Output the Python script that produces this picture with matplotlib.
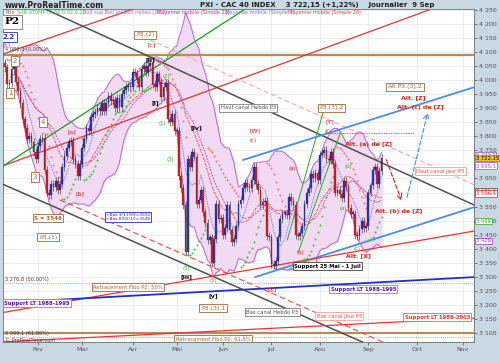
import numpy as np
import pandas as pd
import matplotlib
matplotlib.use("Agg")
import matplotlib.pyplot as plt

# ---- data (CAC 40 daily, 11 Jan -> 9 Sep 2010) ----
first_open = 4060
closes_jan = [4045, 3985, 3990, 4040, 4050, 3995, 3960, 3920, 3860, 3830, 3790, 3800, 3780, 3745, 3720]
closes_feb = [3765, 3790, 3795, 3680, 3600, 3590, 3630, 3620, 3640, 3610, 3630, 3690, 3730, 3760, 3780,
              3785, 3720, 3700, 3660, 3700]
closes_mar = [3760, 3790, 3830, 3820, 3870, 3880, 3885, 3900, 3890, 3920, 3890, 3920, 3945, 3925, 3930,
              3900, 3935, 3905, 3950, 3965, 3975, 3980, 3975]
closes_apr = [4030, 4025, 4005, 3975, 4040, 4050, 4030, 4050, 4060, 3985, 3975, 4020, 3995, 3940, 3975,
              3990, 3860, 3850, 3880, 3820]
closes_may = [3820, 3660, 3615, 3555, 3390, 3720, 3690, 3745, 3725, 3560, 3575, 3610, 3530, 3490, 3430,
              3440, 3350, 3435, 3560, 3505, 3510]
closes_jun = [3450, 3475, 3555, 3465, 3425, 3435, 3480, 3560, 3575, 3615, 3635, 3620, 3615, 3645, 3690,
              3630, 3610, 3555, 3565, 3570, 3445, 3440]
closes_jul = [3345, 3340, 3355, 3440, 3505, 3525, 3525, 3520, 3585, 3570, 3555, 3450, 3445, 3455, 3480,
              3560, 3600, 3615, 3665, 3650, 3670, 3645]
closes_aug = [3735, 3740, 3750, 3720, 3715, 3745, 3700, 3600, 3610, 3595, 3580, 3640, 3620, 3545, 3525,
              3525, 3450, 3445, 3470, 3500, 3475, 3480]
closes_sep = [3600, 3625, 3680, 3690, 3630, 3675, 3722.15]
closes = np.array(closes_jan + closes_feb + closes_mar + closes_apr + closes_may + closes_jun
                  + closes_jul + closes_aug + closes_sep, dtype=float)

month_labels = ["Fev", "Mar", "Avr", "Mai", "Jun", "Jul", "Aou", "Sep", "Oct", "Nov"]
price_ticks = np.arange(3100, 4251, 50)

# horizontal levels
fibo_levels = [4088.8, 3276.8, 3099.1]

# trend lines: (bar0, price0, bar1, price1)
trend_lines = {
    "red_a": (-2.3, 4089, 58.2, 4253),
    "red_b": (-2.3, 3691, 192.3, 4249),
    "green_up": (-2.3, 3687, 109.1, 4253),
    "haut_hebdo": (18.2, 4253, 213.2, 3555),
    "bas_hebdo": (-2.3, 3634, 162.3, 3068),
    "bas_jour": (25.0, 3573, 172.7, 3064),
    "haut_jour": (65.9, 4143, 213.2, 3627),
    "blue_up_top": (108.2, 3716, 213.2, 3975),
    "blue_up_bot": (113.6, 3299, 213.2, 3548),
    "red_lt": (-2.3, 3171, 213.2, 3463),
    "blue_lt": (-2.3, 3207, 213.2, 3299),
    "red_lt_2003": (-2.3, 3068, 213.2, 3153),
    "green_w1": (128.2, 3431, 144.5, 3886),
    "green_w2": (133.2, 3388, 152.3, 3812),
}

# ---- calendar ----
dates = pd.bdate_range("2010-01-11", "2010-11-12")
dates = dates[~dates.isin(pd.to_datetime(["2010-04-02", "2010-04-05"]))]
month_start = [i for i in range(1, len(dates)) if dates[i].month != dates[i - 1].month]

n = len(closes)
idx = np.arange(n)
opens = np.concatenate([[first_open], closes[:-1]])
wick = 14
highs = np.maximum(opens, closes) + wick
lows = np.minimum(opens, closes) - wick

s = pd.Series(closes)
sma7 = s.rolling(7, min_periods=3).mean()
sma20 = s.rolling(20, min_periods=5).mean()
sma23 = s.rolling(23, min_periods=5).mean()
std20 = s.rolling(20, min_periods=5).std(ddof=0)
boll_up = sma20 + 2 * std20
boll_dn = sma20 - 2 * std20


def psar(high, low, step=0.02, mx=0.2):
    sar = np.zeros(len(high))
    up = True
    af = step
    ep = high[0]
    sar[0] = low[0]
    for i in range(1, len(high)):
        sar[i] = sar[i - 1] + af * (ep - sar[i - 1])
        if up:
            sar[i] = min(sar[i], low[i - 1])
            if low[i] < sar[i]:
                up, sar[i], ep, af = False, ep, low[i], step
            elif high[i] > ep:
                ep, af = high[i], min(af + step, mx)
        else:
            sar[i] = max(sar[i], high[i - 1])
            if high[i] > sar[i]:
                up, sar[i], ep, af = True, ep, high[i], step
            elif low[i] < ep:
                ep, af = low[i], min(af + step, mx)
    return sar


sar = psar(highs, lows)


# pixel of the reference -> data coords (for placing annotations)
def bx(x):
    return (x - 5) / 2.2


def py(y):
    return 4100 - (y - 52) / 0.281


# ---- figure ----
fig = plt.figure(figsize=(5, 3.63), dpi=100)
fig.patch.set_facecolor("#c9d9e3")
ax = fig.add_axes([3 / 500, 21 / 363, 471 / 500, 333 / 363])
ax.set_facecolor("white")
ax.set_xlim(-0.9, 213)
ax.set_ylim(3068, 4253)

for sp in ax.spines.values():
    sp.set_color("#707070")
    sp.set_linewidth(0.6)

ax.yaxis.tick_right()
ax.set_yticks(price_ticks)
ax.set_yticklabels([f"{v // 1000} {v % 1000:03d}" for v in price_ticks], fontsize=4.5, color="#303030")
ax.set_xticks(month_start[:len(month_labels)])
ax.set_xticklabels(month_labels, fontsize=4.5, color="#303030")
ax.tick_params(length=2, width=0.5, pad=1.5, colors="#505050")
ax.grid(True, color="#e6e6e6", lw=0.5)
ax.set_axisbelow(True)

# bollinger
ax.fill_between(idx, boll_dn, boll_up, color="#f1daf2", zorder=1)
ax.plot(idx, boll_up, color="#b46ad2", lw=0.7, zorder=2)
ax.plot(idx, boll_dn, color="#b46ad2", lw=0.7, zorder=2)

# horizontal levels
ax.axhline(fibo_levels[0], color="#b88a5a", lw=1.6, zorder=2)
ax.axhline(fibo_levels[1], color="#b88a5a", lw=0.6, ls=(0, (1, 1.5)), zorder=2)
ax.axhline(fibo_levels[2], color="#b88a5a", lw=1.6, zorder=2)
ax.axhline(fibo_levels[2] - 12, color="#b88a5a", lw=0.6, ls=(0, (1, 1.5)), zorder=2)

# trend lines
styles = {
    "red_a": dict(color="#f03030", lw=0.9),
    "red_b": dict(color="#f03030", lw=0.9),
    "green_up": dict(color="#18a018", lw=0.9),
    "haut_hebdo": dict(color="#505050", lw=1.1),
    "bas_hebdo": dict(color="#505050", lw=1.1),
    "bas_jour": dict(color="#f04848", lw=0.8, ls=(0, (5, 3))),
    "haut_jour": dict(color="#f4a0a0", lw=0.7, ls=(0, (5, 3))),
    "blue_up_top": dict(color="#4a8cf0", lw=1.3),
    "blue_up_bot": dict(color="#4a8cf0", lw=1.3),
    "red_lt": dict(color="#f03030", lw=0.9),
    "blue_lt": dict(color="#2030d0", lw=1.3),
    "red_lt_2003": dict(color="#f03030", lw=0.9),
    "green_w1": dict(color="#20b020", lw=0.7),
    "green_w2": dict(color="#20b020", lw=0.7),
}
for key, (b0, p0, b1, p1) in trend_lines.items():
    ax.plot([b0, b1], [p0, p1], zorder=3, **styles[key])

ax.plot([bx(327), bx(415)], [py(133), py(133)], color="#f05050", lw=0.8, ls=(0, (1, 1.2)), zorder=3)

# moving averages
ax.plot(idx, sma7, color="#5a5af0", lw=0.6, ls=(0, (1, 1)), zorder=4)
ax.plot(idx, sma20, color="#e84040", lw=0.6, ls=(0, (3, 1, 1, 1)), zorder=4)
ax.plot(idx, sma23, color="#d0308c", lw=0.6, ls=(0, (2, 1.5)), zorder=4)

# SAR
below = sar < closes
ax.scatter(idx[below], sar[below], s=2.2, color="#3cc83c", lw=0, zorder=5)
ax.scatter(idx[~below], sar[~below], s=2.2, color="#f07878", lw=0, zorder=5)

# candles
ax.vlines(idx, lows, highs, color="#3a3a3a", lw=0.45, zorder=6)
up = closes >= opens
body = np.maximum(np.abs(closes - opens), 4)
ax.bar(idx[up], body[up], bottom=np.minimum(opens, closes)[up], width=0.8,
       color="#1e3cd2", edgecolor="#101060", lw=0.2, zorder=7)
ax.bar(idx[~up], body[~up], bottom=np.minimum(opens, closes)[~up], width=0.8,
       color="#e01c1c", edgecolor="#601010", lw=0.2, zorder=7)

# projection arrows
ax.annotate("", xy=(bx(402), py(203)), xytext=(bx(385), py(157)),
            arrowprops=dict(arrowstyle="->", color="#e02020", lw=0.8, ls=(0, (4, 2))), zorder=8)
ax.annotate("", xy=(bx(428), py(110)), xytext=(bx(406), py(200)),
            arrowprops=dict(arrowstyle="->", color="#4a8cf0", lw=0.8, ls=(0, (4, 2))), zorder=8)

# ---- annotations (text, x_px, y_px, color, box edge, size, weight, align) ----
labels = [
    ("P2", 12, 22, "black", "#808080", 7.5, "bold", "center"),
    ("2.2", 9, 37, "#2c2cc0", "#2c2cc0", 5, "bold", "center"),
    ("(c)", 7, 46, "#9a20c0", None, 4.5, "normal", "center"),
    ("2", 15, 61, "#a06838", "#a06838", 5, "normal", "center"),
    ("1", 10, 93, "#a06838", "#a06838", 5, "normal", "center"),
    ("4", 43, 122, "#a06838", "#a06838", 5, "normal", "center"),
    ("3", 35, 177, "#a06838", "#a06838", 5, "normal", "center"),
    ("[a]", 72, 132, "#e02020", None, 4.5, "normal", "center"),
    ("[b]", 80, 194, "#e02020", None, 4.5, "normal", "center"),
    ("S = 3546", 48, 218, "#a06838", "#a06838", 4, "bold", "center"),
    ("P3.(1)", 48, 237, "#a06838", "#a06838", 4.5, "normal", "center"),
    ("+Bas 3/11/09=3550\n+Bas 8/02/10=3546", 128, 217, "#2c2cc0", "#2c2cc0", 3.2, "normal", "center"),
    ("Retracement Fibo P2: 50%", 128, 287, "#a06838", "#a06838", 3.8, "normal", "center"),
    ("Support LT 1988-1995", 4, 303, "#6010c0", "#a070e0", 3.8, "bold", "left"),
    ("P3.(2)", 145, 35, "#a06838", "#a06838", 4.5, "normal", "center"),
    ("[c]", 152, 45, "#e02020", None, 4.5, "normal", "center"),
    ("[ii]", 150, 60, "black", None, 4.5, "bold", "center"),
    ("(2)", 166, 77, "#30b030", None, 3.8, "normal", "center"),
    ("[i]", 155, 103, "black", None, 4.5, "bold", "center"),
    ("(1)", 162, 124, "#30b030", None, 3.8, "normal", "center"),
    ("(3)", 170, 160, "#30b030", None, 3.8, "normal", "center"),
    ("[iv]", 196, 128, "black", None, 4.5, "bold", "center"),
    ("(5)", 186, 268, "#30b030", None, 3.8, "normal", "center"),
    ("[iii]", 186, 277, "black", None, 4.5, "bold", "center"),
    ("(5)", 213, 280, "#30b030", None, 3.8, "normal", "center"),
    ("[v]", 213, 296, "black", None, 4.5, "bold", "center"),
    ("P3.(3).1", 213, 308, "#a06838", "#a06838", 4.5, "normal", "center"),
    ("Haut canal Hebdo P3", 248, 108, "#505050", "#808080", 3.8, "normal", "center"),
    ("P3.(3).2", 331, 108, "#a06838", "#a06838", 4.5, "normal", "center"),
    ("[Y]", 330, 122, "#e02020", None, 4.5, "normal", "center"),
    ("(c)", 328, 132, "#e02020", None, 3.8, "normal", "center"),
    ("[W]", 255, 131, "#e02020", None, 4.5, "normal", "center"),
    ("(c)", 253, 141, "#e02020", None, 3.8, "normal", "center"),
    ("(a)", 292, 168, "#e02020", None, 3.8, "normal", "center"),
    ("(b)", 300, 252, "#e02020", None, 3.8, "normal", "center"),
    ("(b)", 348, 166, "#30b030", None, 3.8, "normal", "center"),
    ("(a)", 343, 208, "#30b030", None, 3.8, "normal", "center"),
    ("(c)", 357, 248, "#30b030", None, 3.8, "normal", "center"),
    ("[X]", 272, 290, "#e02020", None, 4.5, "normal", "center"),
    ("Alt. [X]", 358, 256, "#e02020", None, 4.5, "bold", "center"),
    ("Support 25 Mai - 1 Juil", 327, 266, "black", "#404040", 3.8, "bold", "center"),
    ("Support LT 1988-1995", 363, 289, "#6010c0", "#a070e0", 3.8, "bold", "center"),
    ("Alt.P3.(3).2", 405, 87, "#a06838", "#a06838", 4.5, "normal", "center"),
    ("Alt. [Z]", 413, 98, "#e02020", None, 4.5, "bold", "center"),
    ("Alt. (c) de [Z]", 420, 108, "#e02020", None, 4.5, "bold", "center"),
    ("Alt. (a) de [Z]", 368, 145, "#e02020", None, 4.5, "bold", "center"),
    ("Haut canal Jour P3", 440, 171, "#f05050", "#f4a0a0", 3.8, "normal", "center"),
    ("Alt. (b) de [Z]", 398, 211, "#e02020", None, 4.5, "bold", "center"),
    ("Bas canal Hebdo P3", 272, 312, "#505050", "#808080", 3.8, "normal", "center"),
    ("Bas canal Jour P3", 339, 316, "#f05050", "#f4a0a0", 3.8, "normal", "center"),
    ("Support LT 1988-2003", 437, 317, "#f03030", "#f06060", 3.8, "bold", "center"),
    ("Retracement Fibo P2: 61,8%", 213, 339, "#a06838", "#a06838", 3.8, "normal", "center"),
]
for text, x, y, col, edge, fs, fw, ha in labels:
    kw = {}
    if edge:
        kw["bbox"] = dict(boxstyle="square,pad=0.25", fc="white", ec=edge, lw=0.6)
    ax.text(bx(x), py(y), text, color=col, fontsize=fs, fontweight=fw, ha=ha, va="center",
            family="serif" if text == "P2" else "DejaVu Sans", zorder=9, clip_on=True, **kw)

# level captions at the left
for text, y in [("4 088,8 (0,00%)", 50), ("3 276,8 (50,00%)", 279), ("3 099,1 (61,80%)", 333),
                ("\u00a9 ProRealTime.com", 340)]:
    ax.text(bx(5), py(y), text, fontsize=3.6, color="#404040", ha="left", va="center", zorder=9)

# price tags on the right axis
tags = [(3733.9, "3 733,9", "#9a50d0", "white", "#9a50d0"),
        (3722.15, "3 722,15", "black", "#f2c21a", "#a08000"),
        (3695.1, "3 695,1", "#9a50d0", "white", "#9a50d0"),
        (3606.0, "3 606,0", "#404040", "white", "#404040"),
        (3596.4, "3 596,4", "#e02020", "white", "#e02020"),
        (3498.0, "3 498", "#30a030", "white", "#30a030"),
        (3428.0, "3 428", "#9a30c0", "white", "#9a30c0")]
for val, txt, col, fc, ec in tags:
    ax.text(1.004, val, txt, transform=ax.get_yaxis_transform(), fontsize=3.8, color=col,
            ha="left", va="center", zorder=10, clip_on=False,
            bbox=dict(boxstyle="square,pad=0.15", fc=fc, ec=ec, lw=0.5))

# header bar and indicator legend
fig.text(5 / 500, 1 - 5 / 363, "www.ProRealTime.com", fontsize=5.5, fontweight="bold", color="#202020",
         va="center", ha="left")
fig.text(200 / 500, 1 - 5 / 363, "PXI - CAC 40 INDEX    3 722,15 (+1,22%)    Journalier  9 Sep",
         fontsize=5, fontweight="bold", color="#202020", va="center", ha="left")
legend_items = [("Prix", 5, "#505050"), ("SAR AT0MP (0.02,0.02,0.2)", 17, "#40c040"),
                ("Boll sup Boll inf Boll milieu (20,2)", 83, "#b060d0"),
                ("Moyenne mobile (Simple 23)", 157, "#d0308c"),
                ("Moyenne mobile (Simple 7)", 225, "#7070f0"),
                ("Moyenne mobile (Simple 20)", 288, "#e84040")]
for text, x, col in legend_items:
    fig.text(x / 500, 1 - 12.5 / 363, text, fontsize=3.6, color=col, va="center", ha="left")

fig.savefig("out.png", dpi=100, facecolor=fig.get_facecolor())
